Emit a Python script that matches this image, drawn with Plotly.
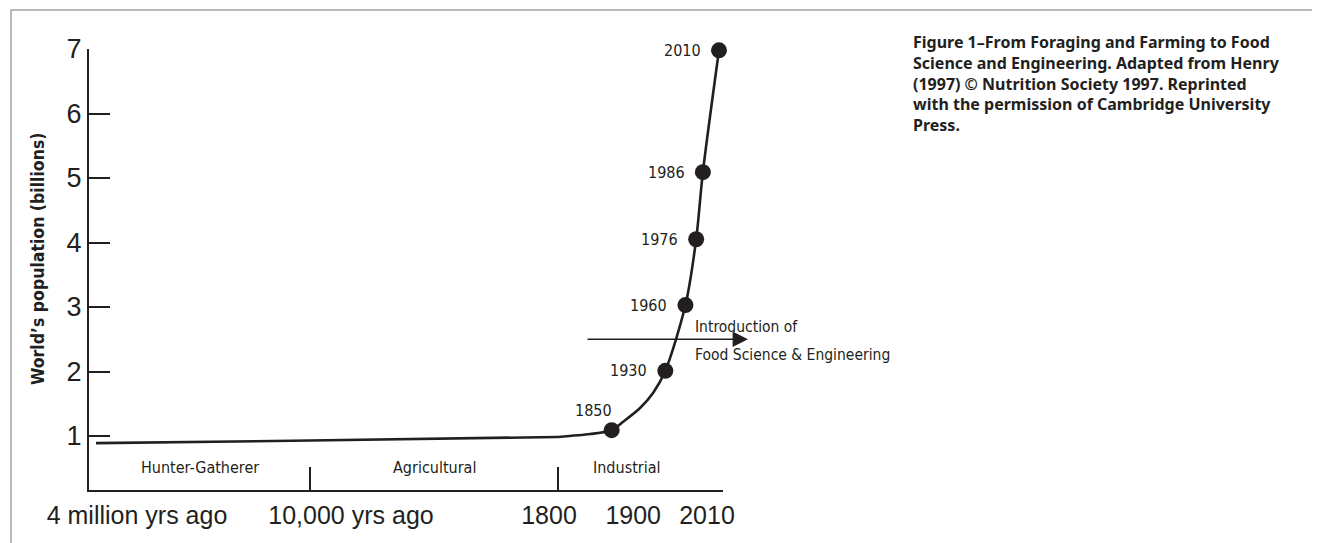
import plotly.graph_objects as go

# ---------------- data ----------------
y_tick_values = [1, 2, 3, 4, 5, 6, 7]

eras = ["Hunter-Gatherer", "Agricultural", "Industrial"]

# bottom time labels, one list per axis segment
hg_tick_years = [-4000000, -8000]
hg_tick_labels = ["4 million yrs ago", "10,000 yrs ago"]
ag_tick_years = [1800]
ag_tick_labels = ["1800"]
ind_tick_years = [1900, 2010]
ind_tick_labels = ["1900", "2010"]

# population line (billions)
hg_years = [-4000000, -8000]
hg_pop = [0.89, 0.93]
ag_years = [-8000, 1800]
ag_pop = [0.93, 0.985]
ind_years = [1770, 1818, 1850, 1867, 1892, 1912, 1930, 1960, 1976, 1986, 2010]
ind_pop = [0.985, 1.03, 1.09, 1.22, 1.43, 1.67, 2.01, 3.03, 4.05, 5.09, 6.98]

# labelled milestones
mark_years = [1850, 1930, 1960, 1976, 1986, 2010]
mark_pop = [1.09, 2.01, 3.03, 4.05, 5.09, 6.98]
mark_labels = ["1850", "1930", "1960", "1976", "1986", "2010"]

arrow_level = 2.5
arrow_text = ["Introduction of", "Food Science & Engineering"]

caption_lines = ["Figure 1\u2013From Foraging and Farming to Food",
                 "Science and Engineering. Adapted from Henry",
                 "(1997) \u00a9 Nutrition Society 1997. Reprinted",
                 "with the permission of Cambridge University",
                 "Press."]
y_title = "World\u2019s population (billions)"

# ---------------- layout geometry ----------------
# the page body adds an 8 px offset; reference pixel coordinates are converted below
OFF = 8
W, H = 1320 - OFF, 543 - OFF
PLOT_L, PLOT_R, PLOT_T, PLOT_B = 89 - OFF, 723 - OFF, 49 - OFF, 490 - OFF
L, R, T, B = PLOT_L, W - PLOT_R, PLOT_T, H - PLOT_B
PW, PH = PLOT_R - PLOT_L, PLOT_B - PLOT_T


def px(x):
    """reference x pixel -> paper fraction"""
    return (x - OFF - PLOT_L) / PW


def py(y):
    """reference y pixel -> paper fraction"""
    return (PLOT_B - (y - OFF)) / PH


INK = "#231f20"
COND = "Liberation Sans Narrow, DejaVu Sans Condensed, Roboto Condensed, Roboto, sans-serif"
HELV = "Liberation Sans, Arial, sans-serif"

d1 = px(310)
d2 = px(558)

fig = go.Figure()

line_style = dict(color=INK, width=2.6)
fig.add_trace(go.Scatter(x=hg_years, y=hg_pop, mode="lines", line=line_style,
                         xaxis="x", yaxis="y", hoverinfo="skip", showlegend=False))
fig.add_trace(go.Scatter(x=ag_years, y=ag_pop, mode="lines", line=line_style,
                         xaxis="x2", yaxis="y", hoverinfo="skip", showlegend=False))
fig.add_trace(go.Scatter(x=ind_years, y=ind_pop, mode="lines",
                         line=dict(color=INK, width=2.6, shape="spline", smoothing=0.8),
                         xaxis="x3", yaxis="y", hoverinfo="skip", showlegend=False,
                         cliponaxis=False))
fig.add_trace(go.Scatter(x=mark_years, y=mark_pop, mode="markers",
                         marker=dict(size=16, color=INK),
                         xaxis="x3", yaxis="y", showlegend=False, cliponaxis=False))

# milestone year labels
for yr, pop, lab in zip(mark_years, mark_pop, mark_labels):
    if lab == mark_labels[0]:
        opts = dict(xanchor="center", xshift=-18, yshift=20)
    else:
        opts = dict(xanchor="right", xshift=-16, yshift=0)
    fig.add_annotation(xref="x3", yref="y", x=yr, y=pop, text=lab, showarrow=False,
                       yanchor="middle", font=dict(family=COND, size=16, color=INK), **opts)

xcommon = dict(showline=True, linecolor=INK, linewidth=2, showgrid=False, zeroline=False,
               ticks="", anchor="y", tickfont=dict(family=HELV, size=25, color=INK),
               ticklabelstandoff=2, fixedrange=True, automargin=False)

fig.update_layout(
    width=W, height=H,
    margin=dict(l=L, r=R, t=T, b=B, pad=0, autoexpand=False),
    paper_bgcolor="white", plot_bgcolor="white",
    xaxis=dict(domain=[0, d1], range=[-4130560, -8000], tickvals=hg_tick_years,
               ticktext=hg_tick_labels, ticklabelshift=41, **xcommon),
    xaxis2=dict(domain=[d1, d2], range=[-8000, 1800], tickvals=ag_tick_years,
                ticktext=ag_tick_labels, ticklabelshift=-9, **xcommon),
    xaxis3=dict(domain=[d2, 1], range=[1770, 2016], tickvals=ind_tick_years,
                ticktext=ind_tick_labels, ticklabelshift=-12, **xcommon),
    yaxis=dict(range=[0.163, 7], tickvals=y_tick_values, showline=True, linecolor=INK,
               linewidth=2, ticks="inside", ticklen=21, tickwidth=2, tickcolor=INK,
               showgrid=False, zeroline=False, anchor="x", automargin=False,
               tickfont=dict(family=HELV, size=27, color=INK),
               fixedrange=True),
)

# y-axis title
fig.add_annotation(text=y_title, xref="paper", x=px(38), yref="paper", y=py(259),
                   textangle=-90, showarrow=False, xanchor="center", yanchor="middle",
                   font=dict(family="DejaVu Sans Condensed, Roboto Condensed, DejaVu Sans",
                             size=17.5, color=INK, weight="bold"))

# era divider marks and era names
for xr in ["x2 domain", "x3 domain"]:
    fig.add_shape(type="line", xref=xr, yref="paper", x0=0, x1=0, y0=0, y1=py(467),
                  line=dict(color=INK, width=2))
for era, xr, xpos in zip(eras, ["x domain", "x2 domain", "x3 domain"], [0.5, 0.5, 0.42]):
    fig.add_annotation(text=era, xref=xr, x=xpos, yref="paper", y=py(467),
                       showarrow=False, xanchor="center", yanchor="middle",
                       font=dict(family=COND, size=16, color=INK))

# frame around the figure
fig.add_shape(type="path", xref="paper", yref="paper",
              path=f"M {px(1325)} {py(10)} L {px(11)} {py(10)} L {px(11)} {py(548)}",
              line=dict(color="#a3a3a3", width=1.5))

# arrow: introduction of food science & engineering
fig.add_annotation(xref="paper", x=px(748), yref="y", y=arrow_level, axref="pixel", ayref="pixel",
                   ax=-162, ay=0, text="", showarrow=True, arrowhead=2, arrowsize=2.2,
                   arrowwidth=1.4, arrowcolor=INK, standoff=0)
for txt, yc in zip(arrow_text, [327, 355]):
    fig.add_annotation(xref="paper", x=px(693), yref="paper", y=py(yc), text=txt,
                       showarrow=False, xanchor="left", yanchor="middle",
                       font=dict(family=COND, size=15.5, color=INK))

# caption
fig.add_annotation(xref="paper", x=px(911), yref="paper", y=py(29), text="<br>".join(caption_lines),
                   showarrow=False, xanchor="left", yanchor="top", align="left",
                   font=dict(family="Noto Sans, Open Sans, sans-serif", size=16,
                             color=INK, weight="bold"))

fig.write_html("out.html", config={"displayModeBar": False})
